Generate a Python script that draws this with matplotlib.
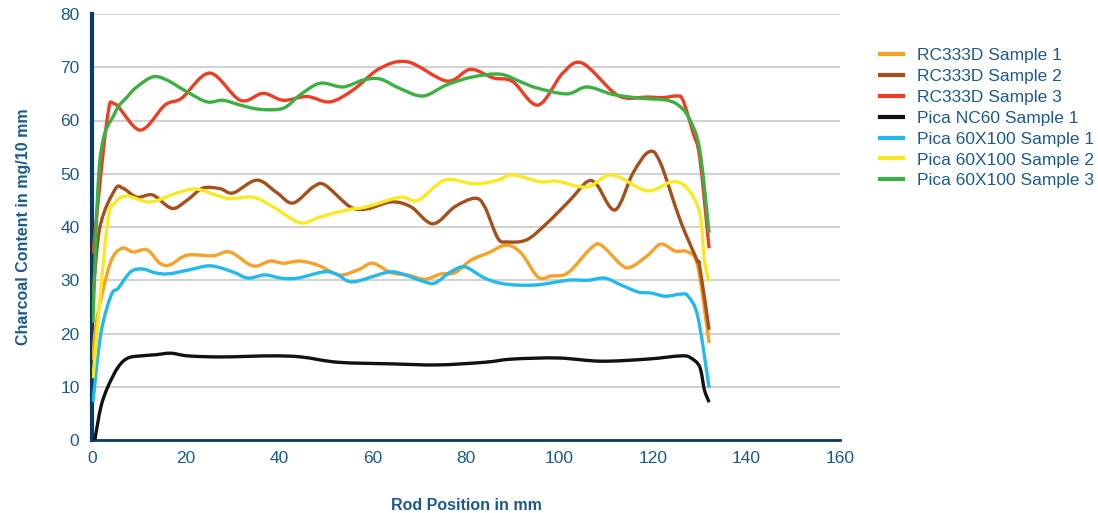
import matplotlib
matplotlib.use("Agg")
import matplotlib.pyplot as plt
from matplotlib.path import Path
from matplotlib.patches import PathPatch
from matplotlib.lines import Line2D
import numpy as np

# ---- data ----
rc1_x = [0.2, 1.0, 3.9, 6.4, 8.8, 11.8, 14.5, 16.7, 20.3, 25.9, 29.5, 34.4, 38.1, 40.9, 44.5, 48.1, 51.6, 53.7, 57.3, 60.1, 64.0, 67.6, 71.2, 74.7, 77.6, 81.1, 84.7, 88.6, 91.8, 95.4, 98.2, 101.8, 106.7, 108.9, 113.2, 115.3, 118.9, 121.7, 124.7, 127.5, 129.6, 132.0]
rc1_y = [15.0, 22.5, 33.2, 36.0, 35.3, 35.7, 33.2, 32.9, 34.7, 34.6, 35.3, 32.7, 33.6, 33.2, 33.6, 32.9, 31.4, 31.0, 32.1, 33.2, 31.4, 31.0, 30.2, 31.2, 31.4, 33.8, 35.1, 36.6, 35.1, 30.6, 30.8, 31.4, 36.0, 36.6, 32.9, 32.5, 34.7, 36.8, 35.5, 35.3, 32.5, 18.2]

rc2_x = [0.2, 1.7, 4.9, 6.6, 9.6, 13.0, 17.1, 20.3, 23.7, 27.4, 30.2, 35.3, 39.6, 43.0, 47.3, 49.8, 55.2, 58.8, 64.0, 68.2, 72.9, 77.6, 81.9, 84.0, 86.8, 88.8, 93.0, 97.3, 102.2, 105.9, 108.0, 111.9, 115.7, 119.1, 121.5, 125.8, 129.4, 130.0, 132.0]
rc2_y = [27.0, 40.0, 47.0, 47.3, 45.6, 46.0, 43.5, 45.0, 47.3, 47.2, 46.4, 48.8, 46.4, 44.5, 47.5, 47.9, 43.8, 43.4, 44.7, 43.8, 40.6, 43.8, 45.4, 43.8, 37.9, 37.2, 37.6, 40.7, 45.0, 48.5, 47.9, 43.2, 50.1, 54.1, 52.2, 41.3, 33.8, 32.5, 20.7]

rc3_x = [0.2, 3.2, 4.9, 10.3, 15.6, 19.2, 25.2, 31.7, 36.6, 40.9, 46.0, 50.9, 55.8, 61.6, 67.6, 75.9, 80.9, 85.8, 90.0, 95.4, 100.7, 104.8, 111.4, 114.4, 118.7, 122.1, 125.1, 126.4, 128.6, 130.0, 132.0]
rc3_y = [35.0, 60.0, 63.1, 58.2, 62.9, 64.2, 68.9, 63.8, 65.1, 63.8, 64.5, 63.5, 65.7, 69.8, 71.0, 67.4, 69.6, 68.0, 67.3, 62.9, 68.9, 70.8, 65.4, 64.2, 64.4, 64.3, 64.6, 63.8, 57.6, 53.0, 36.0]

nc60_x = [0.6, 1.9, 3.4, 5.6, 7.7, 10.5, 13.5, 16.9, 20.5, 27.6, 38.3, 44.7, 52.6, 64.0, 74.0, 84.0, 90.0, 99.7, 108.9, 118.9, 126.0, 128.1, 130.0, 131.0, 132.0]
nc60_y = [0.0, 6.2, 10.0, 13.7, 15.4, 15.8, 16.0, 16.3, 15.8, 15.6, 15.8, 15.6, 14.6, 14.3, 14.1, 14.6, 15.2, 15.4, 14.8, 15.2, 15.8, 15.4, 13.7, 9.4, 7.1]

p1_x = [0.2, 1.9, 4.1, 5.6, 8.3, 10.9, 13.5, 16.3, 20.5, 24.8, 27.6, 30.6, 33.4, 37.0, 40.4, 44.0, 49.8, 52.6, 55.8, 62.7, 65.5, 71.2, 73.4, 76.8, 79.8, 84.0, 88.3, 94.8, 101.8, 106.1, 109.7, 113.2, 116.8, 119.6, 122.6, 126.0, 127.5, 129.6, 132.0]
p1_y = [7.1, 20.0, 27.2, 28.5, 31.6, 32.1, 31.4, 31.2, 31.9, 32.7, 32.3, 31.4, 30.4, 31.0, 30.4, 30.4, 31.6, 31.0, 29.7, 31.4, 31.4, 29.7, 29.5, 31.6, 32.5, 30.4, 29.3, 29.1, 30.0, 30.0, 30.4, 29.1, 27.8, 27.6, 27.0, 27.4, 27.0, 23.1, 9.8]

p2_x = [0.2, 3.2, 4.9, 7.5, 12.4, 18.2, 22.5, 28.9, 34.4, 38.7, 44.5, 48.8, 54.5, 58.8, 65.9, 69.7, 75.5, 81.9, 86.8, 90.0, 95.8, 99.5, 105.9, 111.2, 118.7, 124.1, 127.3, 130.0, 131.0, 132.0]
p2_y = [11.6, 40.0, 44.5, 45.8, 44.7, 46.4, 47.1, 45.4, 45.6, 43.8, 40.8, 41.9, 43.2, 43.8, 45.6, 45.0, 48.8, 48.1, 48.8, 49.8, 48.5, 48.6, 47.5, 49.8, 46.8, 48.5, 47.3, 42.6, 33.8, 29.7]

p3_x = [0.2, 1.7, 4.9, 7.5, 9.6, 13.0, 16.0, 20.3, 24.6, 28.0, 31.7, 35.9, 40.9, 44.5, 48.8, 53.7, 58.0, 61.6, 65.9, 70.8, 75.9, 81.5, 87.3, 91.6, 95.2, 101.6, 105.9, 111.4, 117.2, 123.0, 125.8, 127.9, 130.0, 132.0]
p3_y = [22.0, 52.6, 61.4, 64.4, 66.3, 68.2, 67.6, 65.4, 63.5, 63.8, 62.9, 62.1, 62.3, 64.8, 67.0, 66.3, 67.6, 67.8, 66.0, 64.6, 66.7, 68.2, 68.7, 67.3, 66.1, 65.0, 66.3, 64.9, 64.2, 63.8, 62.6, 60.1, 54.5, 38.9]

labels = ["RC333D Sample 1", "RC333D Sample 2", "RC333D Sample 3", "Pica NC60 Sample 1",
          "Pica 60X100 Sample 1", "Pica 60X100 Sample 2", "Pica 60X100 Sample 3"]
xs_all = [rc1_x, rc2_x, rc3_x, nc60_x, p1_x, p2_x, p3_x]
ys_all = [rc1_y, rc2_y, rc3_y, nc60_y, p1_y, p2_y, p3_y]
colors = ["#f7a129", "#a5501b", "#ee3d25", "#111111", "#23b9ed", "#f8ea22", "#3cb043"]

x_ticks = [0, 20, 40, 60, 80, 100, 120, 140, 160]
y_ticks = [0, 10, 20, 30, 40, 50, 60, 70, 80]

# ---- style ----
TXT = "#1d5a8c"
NAVY = "#0b3a63"
plt.rcParams['font.family'] = ['Liberation Sans', 'DejaVu Sans']


def smooth_path(xs, ys):
    """Bezier path through the given points (Excel-like smoothed line)."""
    p = np.column_stack([xs, ys]).astype(float)
    n = len(p)
    verts = [p[0]]
    codes = [Path.MOVETO]
    for i in range(n - 1):
        p0 = p[i - 1] if i > 0 else p[i]
        p1, p2 = p[i], p[i + 1]
        p3 = p[i + 2] if i + 2 < n else p[i + 1]
        c1 = p1 + (p2 - p0) / 6.0
        c2 = p2 - (p3 - p1) / 6.0
        verts += [c1, c2, p2]
        codes += [Path.CURVE4] * 3
    return Path(verts, codes)


fig = plt.figure(figsize=(10.98, 5.13), dpi=100)
ax = fig.add_axes([92/1098, 1 - 440/513, (840-92)/1098, (440-14)/513])

handles = []
for label, xs, ys, c in zip(labels, xs_all, ys_all, colors):
    patch = PathPatch(smooth_path(xs, ys), facecolor='none', edgecolor=c, lw=2.4,
                      joinstyle='round', capstyle='butt', zorder=3)
    ax.add_patch(patch)
    handles.append(Line2D([], [], color=c, lw=3, label=label))

ax.set_xlim(0, 160)
ax.set_ylim(0, 80)
ax.set_xticks(x_ticks)
ax.set_yticks(y_ticks)
ax.grid(axis='y', color='#c9c9c9', lw=1.2, zorder=0)
ax.set_axisbelow(True)
for s in ['top', 'right']:
    ax.spines[s].set_visible(False)
ax.spines['left'].set_color(NAVY)
ax.spines['left'].set_linewidth(3)
ax.spines['bottom'].set_color(NAVY)
ax.spines['bottom'].set_linewidth(2)
ax.tick_params(axis='both', length=0, labelsize=12.5, labelcolor=TXT)
ax.tick_params(axis='y', pad=9)
ax.tick_params(axis='x', pad=8)

ax.set_xlabel("Rod Position in mm", fontsize=11.5, fontweight='bold', color=TXT, labelpad=23)
ax.set_ylabel("Charcoal Content in mg/10 mm", fontsize=11.5, fontweight='bold', color=TXT, labelpad=21)

leg = fig.legend(handles=handles, loc='upper left', bbox_to_anchor=(873/1098, 1 - 41/513),
                 frameon=False, fontsize=12.5, labelcolor=TXT, handlelength=1.35,
                 handletextpad=0.8, labelspacing=0.33, borderaxespad=0)

fig.savefig("out.png", dpi=100)
